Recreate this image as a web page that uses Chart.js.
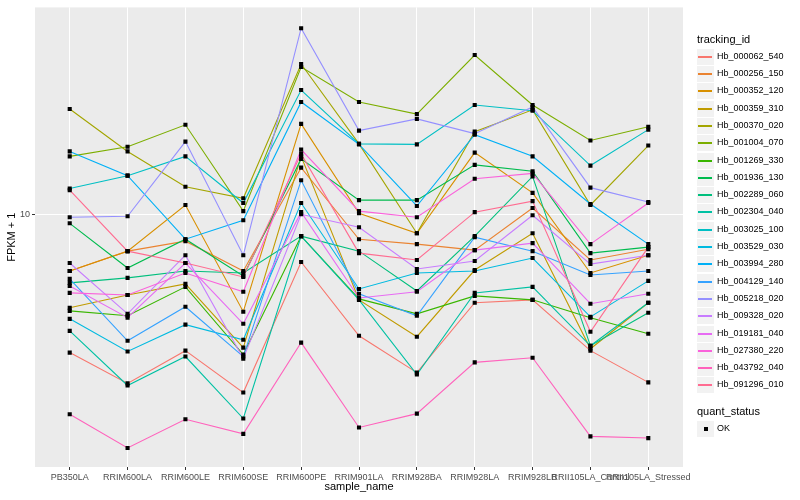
<!DOCTYPE html>
<html>
<head>
<meta charset="utf-8">
<script src="https://cdn.jsdelivr.net/npm/chart.js"></script>
<style>
  body { margin: 0; background: #fff; font-family: "Liberation Sans", Arial, sans-serif; }
  #wrap { position: relative; width: 800px; height: 500px; }
  #legend { position: absolute; left: 697px; top: 0; width: 103px; height: 500px; }
  .ttl { position: absolute; left: 0; font-size: 11px; line-height: 13px; color: #000; white-space: nowrap; }
  .key { position: absolute; left: 0; width: 17px; height: 16px; background: #F2F2F2; }
  .key i { position: absolute; display: block; left: 1px; width: 14px; top: 7px; height: 2px; }
  .key b { position: absolute; display: block; left: 7px; top: 6px; width: 4px; height: 4px; background: #000; }
  .lab { position: absolute; left: 20px; font-size: 9px; line-height: 11px; color: #000; white-space: nowrap; }
</style>
</head>
<body>
<div id="wrap">
  <canvas id="chart" width="800" height="500"></canvas>
  <div id="legend"></div>
</div>
<script>
// x categories
const samples = ['PB350LA', 'RRIM600LA', 'RRIM600LE', 'RRIM600SE', 'RRIM600PE', 'RRIM901LA',
                 'RRIM928BA', 'RRIM928LA', 'RRIM928LB', 'RRII105LA_Control', 'RRII105LA_Stressed'];

// FPKM + 1 per tracking_id, one value per sample
const hb_000062_540 = [2.78, 2.09, 2.83, 1.92, 6.43, 3.25, 2.31, 4.41, 4.53, 2.83, 2.11];
const hb_000256_150 = [5.92, 7.11, 7.80, 5.92, 15.4, 7.94, 7.59, 7.18, 10.6, 6.55, 7.24];
const hb_000352_120 = [5.92, 7.11, 10.9, 4.06, 23.1, 10.1, 8.39, 17.7, 12.2, 5.81, 6.85];
const hb_000359_310 = [4.21, 4.74, 5.25, 2.91, 17.1, 4.53, 3.22, 5.97, 8.39, 2.88, 4.41];
const hb_000370_020 = [26.5, 17.9, 12.9, 11.6, 40.2, 19.2, 8.39, 21.5, 26.3, 10.9, 18.9];
const hb_001004_070 = [17.1, 18.7, 22.9, 10.3, 39.1, 28.3, 25.3, 43.7, 27.5, 19.8, 22.5];
const hb_001269_330 = [4.09, 3.91, 5.11, 2.73, 8.17, 4.57, 3.98, 4.70, 4.53, 3.84, 3.31];
const hb_001936_130 = [9.20, 6.08, 7.94, 5.65, 16.7, 11.4, 11.4, 15.8, 14.9, 6.98, 7.38];
const hb_002289_060 = [5.30, 5.55, 5.92, 5.81, 8.17, 7.11, 4.92, 8.17, 14.2, 2.96, 4.02];
const hb_002304_040 = [3.40, 2.05, 2.68, 1.51, 8.17, 4.53, 2.27, 4.83, 5.11, 2.96, 4.41];
const hb_003025_100 = [12.7, 14.3, 17.1, 11.1, 31.6, 19.2, 19.1, 27.5, 26.1, 15.7, 21.9];
const hb_003529_030 = [3.80, 2.81, 3.60, 3.13, 11.1, 5.01, 5.81, 5.92, 6.67, 3.87, 5.40];
const hb_003994_280 = [17.9, 14.3, 7.94, 9.46, 28.3, 19.1, 10.8, 20.9, 17.1, 11.0, 7.59];
const hb_004129_140 = [5.50, 3.10, 4.25, 2.68, 13.7, 4.79, 3.91, 8.09, 7.11, 5.70, 5.92];
const hb_005218_020 = [9.73, 9.82, 19.6, 6.85, 56.0, 21.7, 24.2, 21.1, 27.0, 12.8, 11.2];
const hb_009328_020 = [6.37, 3.98, 6.85, 2.63, 10.0, 8.87, 6.03, 6.49, 9.91, 6.31, 6.85];
const hb_019181_040 = [5.15, 3.84, 6.37, 3.63, 10.2, 4.61, 4.88, 7.18, 7.66, 4.37, 4.79];
const hb_027380_220 = [4.83, 4.74, 5.81, 4.88, 18.2, 10.3, 9.73, 13.9, 14.6, 7.59, 11.1];
const hb_043792_040 = [1.57, 1.15, 1.50, 1.31, 3.05, 1.39, 1.58, 2.54, 2.65, 1.28, 1.26];
const hb_091296_010 = [12.5, 7.11, 6.37, 5.60, 17.5, 6.98, 6.55, 10.2, 11.3, 3.37, 7.38];

const trackingIds = ['Hb_000062_540', 'Hb_000256_150', 'Hb_000352_120', 'Hb_000359_310', 'Hb_000370_020',
                     'Hb_001004_070', 'Hb_001269_330', 'Hb_001936_130', 'Hb_002289_060', 'Hb_002304_040',
                     'Hb_003025_100', 'Hb_003529_030', 'Hb_003994_280', 'Hb_004129_140', 'Hb_005218_020',
                     'Hb_009328_020', 'Hb_019181_040', 'Hb_027380_220', 'Hb_043792_040', 'Hb_091296_010'];
const series = [hb_000062_540, hb_000256_150, hb_000352_120, hb_000359_310, hb_000370_020,
                hb_001004_070, hb_001269_330, hb_001936_130, hb_002289_060, hb_002304_040,
                hb_003025_100, hb_003529_030, hb_003994_280, hb_004129_140, hb_005218_020,
                hb_009328_020, hb_019181_040, hb_027380_220, hb_043792_040, hb_091296_010];
const quantStatus = ['OK'];
const yTicks = [10];

// ggplot default hue palette, 20 levels
const palette = ['#F8766D', '#EA8331', '#D89000', '#C09B00', '#A3A500', '#7CAE00', '#39B600', '#00BB4E',
                 '#00BF7D', '#00C1A3', '#00BFC4', '#00BAE0', '#00B0F6', '#35A2FF', '#9590FF', '#C77CFF',
                 '#E76BF3', '#FA62DB', '#FF62BC', '#FF6C91'];

// grey panel behind the grid
const panelBg = {
    id: 'panelBg',
    beforeDraw(chart) {
        const { ctx, chartArea: a } = chart;
        ctx.save();
        ctx.fillStyle = '#EBEBEB';
        ctx.fillRect(a.left, a.top, a.right - a.left, a.bottom - a.top);
        ctx.restore();
    }
};

let datasets = series.map((vals, k) => ({
    label: trackingIds[k],
    data: vals.map((v, i) => ({ x: i, y: v })),
    borderColor: palette[k],
    borderWidth: 1.1,
    pointRadius: 0,
    tension: 0,
    order: series.length - k
}));

// all the points on top, in black
let okPoints = [];
series.forEach(vals => vals.forEach((v, i) => okPoints.push({ x: i, y: v })));
datasets.push({
    label: quantStatus[0],
    data: okPoints,
    showLine: false,
    pointStyle: 'rect',
    pointRadius: 2.9,
    pointBorderWidth: 0,
    pointBackgroundColor: '#000',
    order: 0
});

const tickFont = { family: '"Liberation Sans", Arial, sans-serif', size: 9 };
const titleFont = { family: '"Liberation Sans", Arial, sans-serif', size: 11 };

new Chart(document.getElementById('chart'), {
    type: 'line',
    data: { datasets: datasets },
    plugins: [panelBg],
    options: {
        responsive: false,
        animation: false,
        layout: { padding: { top: 5, right: 117, bottom: 0, left: 0 } },
        plugins: { legend: { display: false }, tooltip: { enabled: false } },
        scales: {
            x: {
                type: 'linear',
                min: -0.6,
                max: 10.6,
                afterBuildTicks: s => { s.ticks = samples.map((_, i) => ({ value: i })); },
                afterFit: s => { s.height = 33; },
                ticks: {
                    callback: v => samples[v],
                    autoSkip: false, maxRotation: 0, minRotation: 0,
                    color: '#4D4D4D', font: tickFont, padding: 2
                },
                grid: { color: '#FFFFFF', lineWidth: 1, tickLength: 3, tickColor: '#333333', tickWidth: 1 },
                border: { display: false },
                title: { display: true, text: 'sample_name', color: '#000', font: titleFont, padding: { top: 0, bottom: 6 } }
            },
            y: {
                type: 'logarithmic',
                min: 0.964,
                max: 67.9,
                afterBuildTicks: s => { s.ticks = yTicks.map(v => ({ value: v })); },
                afterFit: s => { s.width = 35; },
                ticks: { callback: v => String(v), color: '#4D4D4D', font: tickFont, padding: 2 },
                grid: { color: '#FFFFFF', lineWidth: 1, tickLength: 3, tickColor: '#333333', tickWidth: 1 },
                border: { display: false },
                title: { display: true, text: 'FPKM + 1', color: '#000', font: titleFont, padding: { top: 5, bottom: 0 } }
            }
        }
    }
});

// legend on the right, built from the same arrays
let legend = document.getElementById('legend');
let html = '<div class="ttl" style="top:33px">tracking_id</div>';
trackingIds.forEach((id, k) => {
    let cy = Math.round(56.7 + 17.3 * k);
    html += '<div class="key" style="top:' + (cy - 8) + 'px"><i style="background:' + palette[k] + '"></i></div>';
    html += '<div class="lab" style="top:' + (cy - 6) + 'px">' + id + '</div>';
});
html += '<div class="ttl" style="top:405px">quant_status</div>';
quantStatus.forEach((q, k) => {
    let cy = Math.round(429.3 + 17.3 * k);
    html += '<div class="key" style="top:' + (cy - 8) + 'px"><b></b></div>';
    html += '<div class="lab" style="top:' + (cy - 6) + 'px">' + q + '</div>';
});
legend.innerHTML = html;
</script>
</body>
</html>
